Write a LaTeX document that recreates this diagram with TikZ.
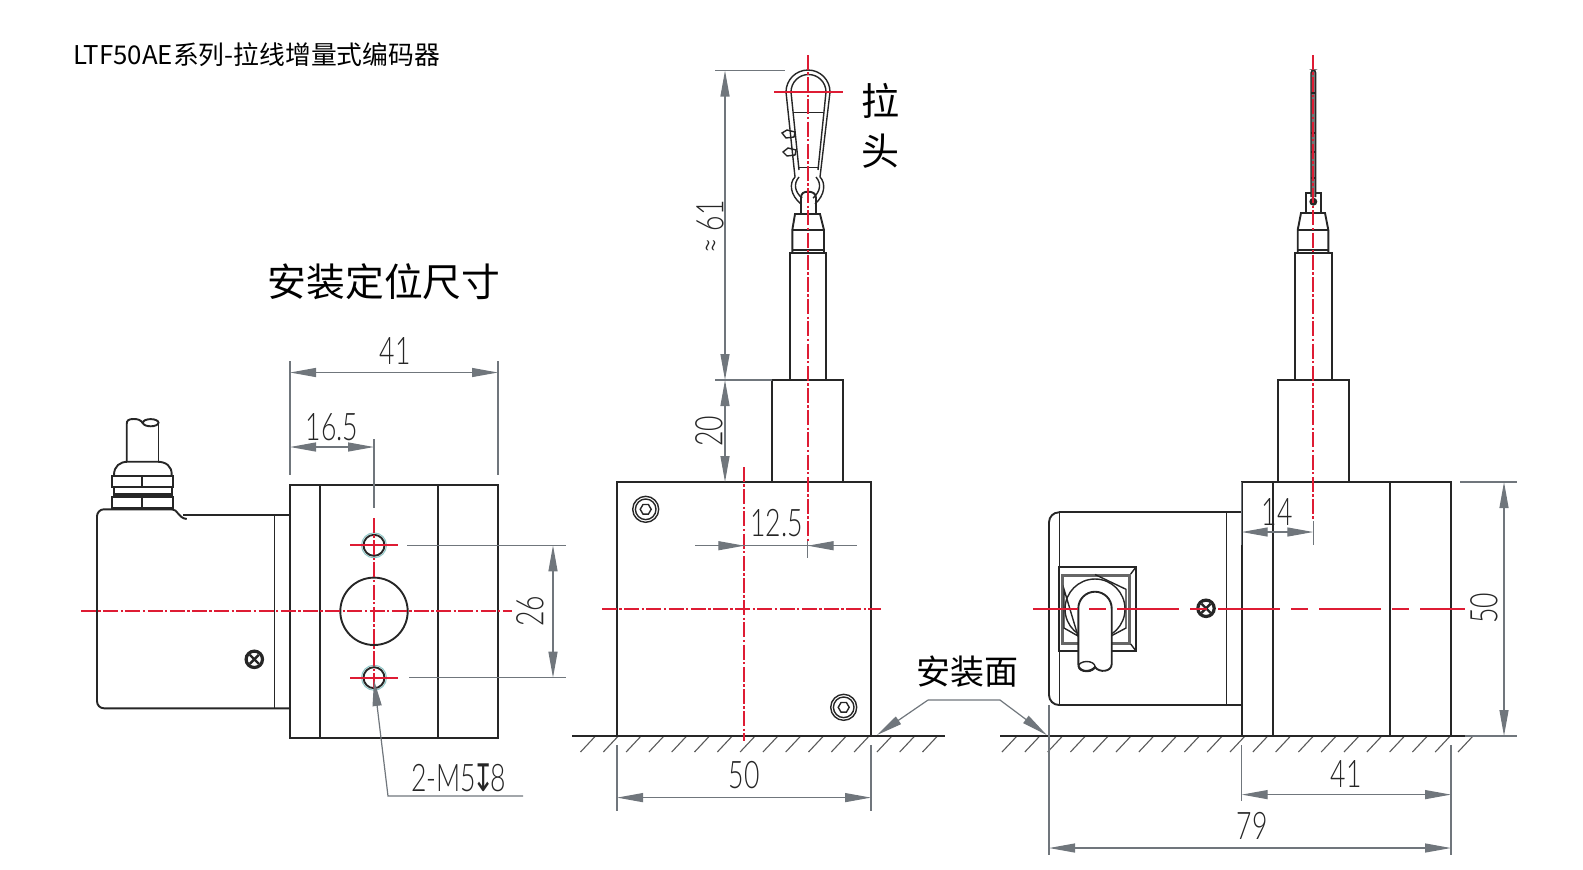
\documentclass[tikz,border=0pt]{standalone}
\usepackage{fontspec}
\usetikzlibrary{arrows.meta}
\setmainfont{Noto Sans CJK SC}
\newfontfamily\dimfont[FakeStretch=0.7,UprightFont=* Light]{Lato}
\newfontfamily\symfont[FakeStretch=0.7]{DejaVu Sans}
\definecolor{centerred}{RGB}{222,28,52}
\definecolor{dimgrey}{RGB}{112,118,124}
\begin{document}
\begin{tikzpicture}[x=.5pt, y=-.5pt,
     body/.style={draw=black!85, line width=.95pt},
     thin body/.style={draw=black!85, line width=.7pt},
     center/.style={draw=centerred, line width=.9pt, dash pattern=on 7.5pt off 1.2pt on 1.2pt off 1.2pt},
     dimline/.style={draw=dimgrey, line width=.6pt, {Triangle[length=13pt,width=4.5pt]}-{Triangle[length=13pt,width=4.5pt]}},
     tipline/.style={draw=dimgrey, line width=.6pt, -{Triangle[length=13pt,width=4.5pt]}},
     extline/.style={draw=dimgrey, line width=.6pt},
     hatch/.style={draw=black!65, line width=.55pt},
     dimtext/.style={font=\dimfont\fontsize{19}{19}\selectfont, text=black!85, inner sep=0pt},
     cjktext/.style={text=black, inner sep=0pt}]
\useasboundingbox (0,0) rectangle (1583,869);

\node[cjktext, anchor=west, font=\fontsize{12.9}{14}\selectfont] (title) at (73,55) {LTF50AE系列-拉线增量式编码器};
\node[cjktext, font=\fontsize{19.4}{22}\selectfont] (mounttitle) at (384,282) {安装定位尺寸};
\node[cjktext, font=\fontsize{19}{22}\selectfont] (pullA) at (880,101) {拉};
\node[cjktext, font=\fontsize{19}{22}\selectfont] (pullB) at (880,151) {头};
\node[cjktext, font=\fontsize{17}{20}\selectfont] (mountface) at (967,672) {安装面};

\draw[body, rounded corners=3.5pt] (290,708.3) -- (97,708.3) -- (97,509.3) -- (172,509.3);
\draw[body] (172,509.3) .. controls (178,509.3) and (178,518) .. (186.7,519);
\draw[body] (183,515) -- (290,515);
\draw[thin body] (274.3,515) -- (274.3,708.3);
\draw[body] (290,485) rectangle (498,738.3);
\draw[body] (320,485) -- (320,738.3) (437.7,485) -- (437.7,738.3);
\draw[body] (126.7,461.7) -- (126.7,424) .. controls (126.7,420) and (129,419) .. (134,419)
     .. controls (138,419) and (141,420) .. (143,423.5);
\draw[body] (150.7,422.7) ellipse [x radius=7.8, y radius=3.6];
\draw[body] (158.5,423) -- (158.5,461.7);
\draw[body] (114,475) .. controls (114,466) and (120,461.7) .. (128,461.7) -- (157,461.7)
     .. controls (166,461.7) and (172,466) .. (171.7,475);
\draw[body] (111.7,476) rectangle (173.3,487.3);
\draw[body] (114,487.3) rectangle (172,494.3);
\fill[black!85] (113,494.3) rectangle (173,497);
\draw[body] (111.7,497) rectangle (173.3,507.7);
\draw[body] (142.3,476) -- (142.3,487.3) (142.3,497) -- (142.3,507.7);
\draw[thin body] (118,507.7) -- (118,509.3) (167,507.7) -- (167,509.3);
\foreach \sx/\sy in {254.3/659.3, 1206/608.3}{
     \draw[line width=1.6pt, black!85] (\sx,\sy) circle [radius=8.2];
     \draw[line width=1.2pt, black!85] (\sx-4.5,\sy-4.5) -- (\sx+4.5,\sy+4.5) (\sx-4.5,\sy+4.5) -- (\sx+4.5,\sy-4.5);
}

\draw[body] (374,611.3) circle [radius=33.7];
\foreach \hy in {545.3, 677.7}{
     \draw[draw=teal!45, line width=.5pt] (374,\hy) circle [radius=12.5];
     \draw[body] (374,\hy) circle [radius=10.5];
     \draw[centerred, line width=.9pt] (350,\hy) -- (398,\hy);
}
\draw[center] (81,611.3) -- (512,611.3);
\draw[center] (374,518) -- (374,688);

\draw[extline] (290,361) -- (290,475) (498,361) -- (498,475);
\draw[dimline] (290,372.5) -- (498,372.5);
\node[dimtext] (widthA) at (395,351) {41};
\draw[extline] (374,439) -- (374,508);
\draw[dimline] (290,447) -- (374,447);
\node[dimtext] (offsetA) at (332,427) {16.5};
\draw[extline] (407,545.3) -- (566,545.3) (409,677.7) -- (566,677.7);
\draw[dimline] (553,545.3) -- (553,677.7);
\node[dimtext, rotate=90] (holepitch) at (530,611) {26};
\draw[tipline] (523,796) -- (388,796) -- (374,680);
\node[dimtext, anchor=west] (threadnote) at (411,778) {2-M5\kern-2pt{\symfont ↧}\kern-2pt 8};

\foreach \hx in {0,...,15}
     \draw[hatch] ({580.5+22.8*\hx},752) -- ++(15,-16);
\draw[body] (572,736) -- (945,736);
\draw[body] (617,482) rectangle (871,736);
\foreach \sx/\sy in {645.7/509.3, 843.7/707.3}{
     \draw[thin body] (\sx,\sy) circle [radius=13];
     \draw[thin body] (\sx,\sy) circle [radius=10.3];
     \draw[thin body] (\sx-5.5,\sy) -- (\sx-2.7,\sy-4.8) -- (\sx+2.7,\sy-4.8) -- (\sx+5.5,\sy) -- (\sx+2.7,\sy+4.8) -- (\sx-2.7,\sy+4.8) -- cycle;
}
\draw[body] (772.3,482) -- (772.3,380) -- (843.3,380) -- (843.3,482);
\draw[body] (790,380) -- (790,253) -- (826,253) -- (826,380);
\draw[body] (792.3,253) -- (792.3,230) -- (795,214) -- (820,214) -- (824,230) -- (824,253);
\draw[thin body] (792.3,230) -- (824,230) (792.3,250) -- (824,250);
\draw[body] (801,214) -- (801,203) (816,214) -- (816,203);
\draw[thin body] (795,177) -- (786,92) arc [start angle=180, end angle=360, radius=22] -- (820,177);
\draw[thin body] (799,170) -- (791,92) arc [start angle=180, end angle=360, radius=17.5] -- (818,170);
\draw[thin body] (793.3,112.7) -- (823.3,112.7) (797.7,167.7) -- (818,167.7);
\draw[thin body] (795,177) .. controls (789,183) and (790,195) .. (801,204);
\draw[thin body] (799,177) .. controls (793,184) and (795,192) .. (802,198);
\draw[thin body] (820,177) .. controls (826,183) and (825,195) .. (815,204);
\draw[thin body] (816,177) .. controls (822,184) and (820,192) .. (813,198);
\draw[body] (801,203) -- (801,198) .. controls (801,193) and (804,191.7) .. (808,191.7) .. controls (812,191.7) and (816,193) .. (816,198) -- (816,203);
\draw[thin body] (782,133) -- (787,130) -- (795,132) -- (794,137) -- (786,138) -- cycle;
\draw[thin body] (783,152) -- (788,148) -- (796,150) -- (795,155) -- (787,156) -- cycle;
\draw[center] (744.3,467) -- (744.3,741);
\draw[center] (602,608.7) -- (881,608.7);
\draw[center] (807.7,55) -- (807.7,541);
\draw[centerred, line width=.9pt] (774.3,91.7) -- (842.7,91.7);

\draw[extline] (715,70.5) -- (785,70.5) (715,380) -- (772,380);
\draw[dimline] (725,70.5) -- (725,380);
\draw[dimline] (725,380) -- (725,482);
\node[dimtext, rotate=90] (lengthA) at (710,227) {≈ 61};
\node[dimtext, rotate=90] (collarA) at (709,431) {20};
\draw[extline] (807.7,541) -- (807.7,558) (695,545.7) -- (857,545.7);
\draw[tipline] (719,545.7) -- (744.3,545.7);
\draw[tipline] (833,545.7) -- (807.7,545.7);
\node[dimtext] (axisgap) at (776.7,523) {12.5};
\draw[extline] (617,745) -- (617,811) (871,745) -- (871,811);
\draw[dimline] (617,797.6) -- (871,797.6);
\node[dimtext] (widthB) at (744,775) {50};

\draw[tipline] (928,700) -- (1000,700) -- (1046.7,735);
\draw[tipline] (928,700) -- (877,735);

\foreach \hx in {0,...,20}
     \draw[hatch] ({1002+22.8*\hx},752) -- ++(15,-16);
\draw[body] (1000,736) -- (1470,736);
\draw[body, rounded corners=5pt] (1059.3,705) -- (1049,705) -- (1049,512.3) -- (1059.3,512.3);
\draw[body] (1059.3,512.3) -- (1241.7,512.3) (1059.3,705) -- (1241.7,705);
\draw[thin body] (1059.3,512.3) -- (1059.3,705);
\draw[thin body] (1226.7,512.3) -- (1226.7,705);
\draw[body] (1241.7,482) rectangle (1451,736);
\draw[body] (1273,482) -- (1273,736) (1390,482) -- (1390,736);
\draw[body] (1278,482) -- (1278,380) -- (1349,380) -- (1349,482);
\draw[body] (1295,380) -- (1295,253) -- (1331.7,253) -- (1331.7,380);
\draw[body] (1297.7,253) -- (1297.7,230) -- (1301,213) -- (1325,213) -- (1328.3,230) -- (1328.3,253);
\draw[thin body] (1297.7,230) -- (1328.3,230) (1297.7,250) -- (1328.3,250);
\draw[body] (1305.7,213) -- (1305.7,192.7) -- (1321,192.7) -- (1321,213);
\draw[thin body, rounded corners=1.5pt, fill=black!55] (1311,197) -- (1311,70) -- (1315.7,70) -- (1315.7,197);
\fill[black!85] (1313.3,201.7) circle [radius=4];
\foreach \cy in {93, 133, 152, 178}
     \draw[thin body] (1311,\cy) -- (1315.7,\cy);

\draw[body] (1059.3,567.3) rectangle (1135.7,650.7);
\draw[draw=black!60, line width=1.5pt] (1062,575) rectangle (1129.5,643);
\draw[thin body] (1130.7,574) -- (1135.7,567.3) (1130.7,644) -- (1135.7,650.7);
\draw[thin body] (1095,574.5) -- (1126,589.3) -- (1126,628) -- (1111,636) (1078,636) -- (1064,628) -- (1064,589.3) -- cycle;
\draw[thin body] (1095,609) circle [radius=30];
\draw[body, fill=white] (1078.3,608.4) arc [start angle=180, end angle=360, radius=16.7]
     -- (1111.7,664) .. controls (1111.7,672) and (1099,673) .. (1095,667)
     .. controls (1090,673) and (1078.3,672) .. (1078.3,664) -- cycle;
\draw[thin body] (1086.7,666.5) ellipse [x radius=8.3, y radius=5];
\draw[centerred, line width=.9pt, dash pattern=on 31pt off 5.5pt on 8.5pt off 5.5pt, dash phase=8.5pt] (1033,608.7) -- (1465,608.7);
\draw[center] (1313.3,55) -- (1313.3,521);

\draw[extline] (1313.3,521) -- (1313.3,545) (1241.7,482) -- (1241.7,545);
\draw[dimline] (1241.7,532) -- (1313.3,532);
\node[dimtext] (axisgapB) at (1277,512) {14};
\draw[extline] (1460,482) -- (1517,482) (1465,736) -- (1517,736);
\draw[dimline] (1504,482) -- (1504,736);
\node[dimtext, rotate=90] (heightA) at (1484,608) {50};
\draw[extline] (1241.7,745) -- (1241.7,801) (1451,745) -- (1451,855) (1049,705) -- (1049,855);
\draw[dimline] (1241.7,794.6) -- (1451,794.6);
\node[dimtext] (widthC) at (1346,774) {41};
\draw[dimline] (1049,848) -- (1451,848);
\node[dimtext] (lengthB) at (1252,826) {79};
\end{tikzpicture}
\end{document}
